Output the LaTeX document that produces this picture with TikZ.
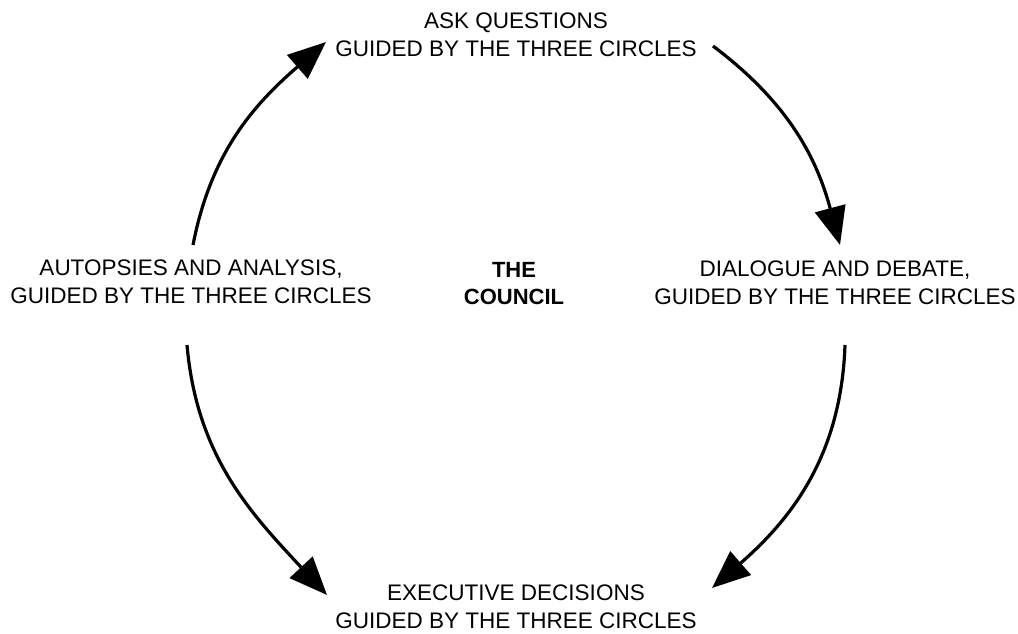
\documentclass[tikz,border=0pt]{standalone}
\usepackage{fontspec}
\setmainfont{Liberation Sans}
\usetikzlibrary{arrows.meta}
\begin{document}
\begin{tikzpicture}[x=1pt,y=1pt,
  label/.style={align=center,inner sep=0pt,font=\fontsize{22.5}{28}\selectfont},
  hub/.style={align=center,inner sep=0pt,font=\fontsize{22}{27}\selectfont\bfseries},
  cycle arrow/.style={line width=3.2pt,-{Triangle[length=38pt,width=31pt]}}]
\useasboundingbox (0,0) rectangle (1018,633);

% stages of the cycle
\node[label] (ask) at (516,598) {ASK QUESTIONS\\GUIDED BY THE THREE CIRCLES};
\node[label] (dialogue) at (835,350) {DIALOGUE AND DEBATE,\\GUIDED BY THE THREE CIRCLES};
\node[label] (exec) at (516,26) {EXECUTIVE DECISIONS\\GUIDED BY THE THREE CIRCLES};
\node[label] (autopsy) at (191,351.5) {AUTOPSIES AND ANALYSIS,\\GUIDED BY THE THREE CIRCLES};
\node[hub] (council) at (514,349.5) {THE\\COUNCIL};

% curved arrows between the stages
\draw[cycle arrow] ([shift={(2,36.5)}]autopsy.center) to[out=79,in=221] ([shift={(-190,-7)}]ask.center);
\draw[cycle arrow] ([shift={(197,-11)}]ask.center) to[out=-37,in=105] ([shift={(5,38)}]dialogue.center);
\draw[cycle arrow] ([shift={(10,-62)}]dialogue.center) to[out=-92,in=41] ([shift={(196,19)}]exec.center);
\draw[cycle arrow] ([shift={(-4,-63.5)}]autopsy.center) to[out=-85,in=133] ([shift={(-189,12)}]exec.center);
\end{tikzpicture}
\end{document}
